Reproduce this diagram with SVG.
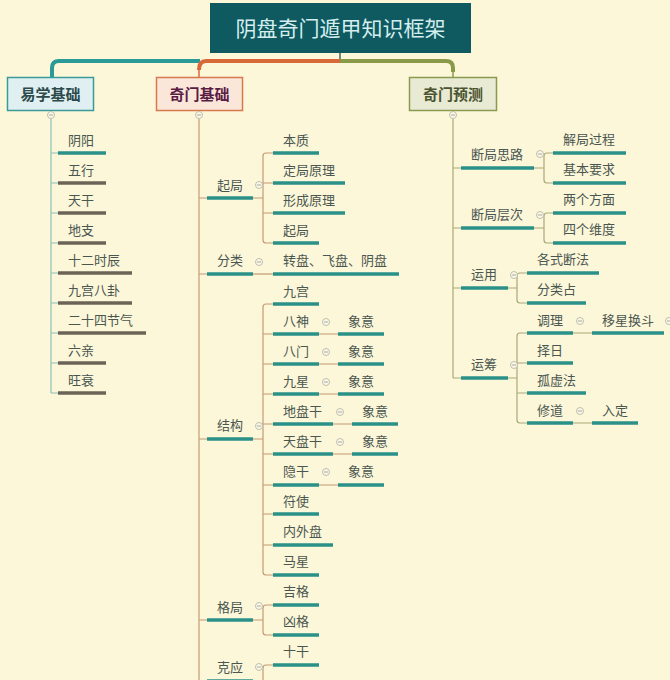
<svg xmlns="http://www.w3.org/2000/svg" width="670" height="680" viewBox="0 0 670 680">
<style>
.t{font-family:"Noto Sans CJK SC","Noto Sans",sans-serif;font-size:13px;fill:#4a5650}
.bt{font-family:"Noto Sans CJK SC","Noto Sans",sans-serif;font-size:15px;font-weight:bold}
.ut{stroke:#2a9088;stroke-width:3.5;fill:none}
.ug{stroke:#6b6456;stroke-width:3.5;fill:none}
.cl{stroke:#8cc0b8;stroke-width:1.2;fill:none}
.cm{stroke:#c49a72;stroke-width:1.2;fill:none}
.cr{stroke:#aaa878;stroke-width:1.2;fill:none}
.ci{fill:#fbf8e6;stroke:#b8b8a8;stroke-width:0.9}
.cim{stroke:#a0a098;stroke-width:0.9}
</style>
<defs>
<g id="col"><circle class="ci" r="3.5"/><line class="cim" x1="-2" y1="0" x2="2" y2="0"/></g>
</defs>
<rect width="670" height="680" fill="#fcf7d9"/>

<g id="connectors">
<path d="M340,53 V61" stroke="#3a6a60" stroke-width="1.5"/>
<path d="M52,77 V68 Q52,61 59,61 H200" stroke="#2a9a98" stroke-width="4" fill="none"/>
<path d="M52,66 V77" stroke="#2a9a98" stroke-width="1.5"/>
<path d="M199,70 Q199,61 206,61 H341" stroke="#d8693a" stroke-width="4" fill="none"/>
<path d="M199,66 V77" stroke="#d8693a" stroke-width="1.5"/>
<path d="M340,61 H446 Q453,61 453,68 V72" stroke="#8a9a48" stroke-width="4" fill="none"/>
<path d="M453,66 V77" stroke="#8a9a48" stroke-width="1.5"/>
<!-- left column -->
<path class="cl" d="M51,119 V393 M51,153 H58 M51,183 H58 M51,213 H58 M51,243 H58 M51,273 H58 M51,303 H58 M51,333 H58 M51,363 H58 M51,393 H58"/>
<!-- middle column -->
<path class="cm" d="M199,119 V680 M199,198 H207 M199,274 H207 M199,439 H207 M199,620 H207 M199,681 H207"/>
<path class="cm" d="M253,198 H263 M266,153 Q263,153 263,156 V240 Q263,243 266,243 H273 M266,153 H273 M263,183 H273 M263,213 H273"/>
<path class="cm" d="M253,274 H273"/>
<path class="cm" d="M253,439 H263 M266,304 Q263,304 263,307 V572 Q263,575 266,575 H273 M266,304 H273 M263,334 H273 M263,364 H273 M263,394 H273 M263,424 H273 M263,454 H273 M263,485 H273 M263,514 H273 M263,545 H273"/>
<path class="cm" d="M319,334 H338 M319,364 H338 M319,394 H338 M333,424 H352 M333,454 H352 M319,485 H338"/>
<path class="cm" d="M253,620 H263 M266,605 Q263,605 263,608 V632 Q263,635 266,635 H273 M266,605 H273"/>
<path class="cm" d="M266,665 Q263,665 263,668 V680 M266,665 H273"/>
<!-- right column -->
<path class="cr" d="M453,119 V378 M453,168 H461 M453,228 H461 M453,288 H461 M453,378 H461"/>
<path class="cr" d="M534,168 H544 M547,153 Q544,153 544,156 V180 Q544,183 547,183 H553 M547,153 H553"/>
<path class="cr" d="M534,228 H544 M547,213 Q544,213 544,216 V240 Q544,243 547,243 H553 M547,213 H553"/>
<path class="cr" d="M508,288 H517 M520,273 Q517,273 517,276 V300 Q517,303 520,303 H527 M520,273 H527"/>
<path class="cr" d="M508,378 H517 M520,333 Q517,333 517,336 V420 Q517,423 520,423 H527 M520,333 H527 M517,363 H527 M517,393 H527"/>
<path class="cr" d="M573,333 H592 M573,423 H592"/>
</g>

<g id="root">
<rect x="210" y="3" width="261" height="50" fill="#0e5a60"/>
<text x="340.5" y="36" text-anchor="middle" style="font-family:'Noto Sans CJK SC','Noto Sans',sans-serif;font-size:21px;fill:#d4eeee">阴盘奇门遁甲知识框架</text>
</g>

<g id="n-yixue">
<rect x="7.5" y="77.5" width="86" height="33" fill="#e0f0f2" stroke="#3a9a98" stroke-width="1.5"/>
<text class="bt" x="50.5" y="99.5" text-anchor="middle" fill="#2c4a4c">易学基础</text>
<use href="#col" x="51" y="115"/>
</g>
<g id="n-qimen">
<rect x="156.5" y="77.5" width="86" height="33" fill="#fbe6da" stroke="#d8784e" stroke-width="1.5"/>
<text class="bt" x="199.5" y="99.5" text-anchor="middle" fill="#5a1c44">奇门基础</text>
<use href="#col" x="199" y="115"/>
</g>
<g id="n-yuce">
<rect x="409.5" y="77.5" width="87" height="33" fill="#e8ead4" stroke="#8a9a50" stroke-width="1.5"/>
<text class="bt" x="453" y="99.5" text-anchor="middle" fill="#4a5530">奇门预测</text>
<use href="#col" x="453" y="115"/>
</g>

<!-- left children -->
<g id="l1"><line class="ut" x1="58" y1="153" x2="106" y2="153"/><text class="t" x="68" y="145">阴阳</text></g>
<g id="l2"><line class="ug" x1="58" y1="183" x2="106" y2="183"/><text class="t" x="68" y="175">五行</text></g>
<g id="l3"><line class="ug" x1="58" y1="213" x2="106" y2="213"/><text class="t" x="68" y="205">天干</text></g>
<g id="l4"><line class="ug" x1="58" y1="243" x2="106" y2="243"/><text class="t" x="68" y="235">地支</text></g>
<g id="l5"><line class="ug" x1="58" y1="273" x2="132" y2="273"/><text class="t" x="68" y="265">十二时辰</text></g>
<g id="l6"><line class="ug" x1="58" y1="303" x2="132" y2="303"/><text class="t" x="68" y="295">九宫八卦</text></g>
<g id="l7"><line class="ug" x1="58" y1="333" x2="146" y2="333"/><text class="t" x="68" y="325">二十四节气</text></g>
<g id="l8"><line class="ug" x1="58" y1="363" x2="106" y2="363"/><text class="t" x="68" y="355">六亲</text></g>
<g id="l9"><line class="ug" x1="58" y1="393" x2="106" y2="393"/><text class="t" x="68" y="385">旺衰</text></g>

<!-- middle -->
<g id="m-qiju"><line class="ut" x1="207" y1="198" x2="253" y2="198"/><text class="t" x="217" y="190">起局</text><use href="#col" x="259" y="185"/></g>
<g id="m1"><line class="ut" x1="273" y1="153" x2="319" y2="153"/><text class="t" x="283" y="145">本质</text></g>
<g id="m2"><line class="ut" x1="273" y1="183" x2="345" y2="183"/><text class="t" x="283" y="175">定局原理</text></g>
<g id="m3"><line class="ut" x1="273" y1="213" x2="345" y2="213"/><text class="t" x="283" y="205">形成原理</text></g>
<g id="m4"><line class="ut" x1="273" y1="243" x2="319" y2="243"/><text class="t" x="283" y="235">起局</text></g>
<g id="m-fenlei"><line class="ut" x1="207" y1="274" x2="253" y2="274"/><text class="t" x="217" y="265">分类</text><use href="#col" x="259" y="262"/></g>
<g id="m5"><line class="ut" x1="273" y1="274" x2="399" y2="274"/><text class="t" x="283" y="265">转盘、飞盘、阴盘</text></g>
<g id="m-jiegou"><line class="ut" x1="207" y1="439" x2="253" y2="439"/><text class="t" x="217" y="430">结构</text><use href="#col" x="259" y="426"/></g>
<g id="s1"><line class="ut" x1="273" y1="304" x2="319" y2="304"/><text class="t" x="283" y="296">九宫</text></g>
<g id="s2"><line class="ut" x1="273" y1="334" x2="319" y2="334"/><text class="t" x="283" y="326">八神</text><use href="#col" x="326" y="322"/></g>
<g id="s2a"><line class="ut" x1="338" y1="334" x2="384" y2="334"/><text class="t" x="348" y="326">象意</text></g>
<g id="s3"><line class="ut" x1="273" y1="364" x2="319" y2="364"/><text class="t" x="283" y="356">八门</text><use href="#col" x="326" y="352"/></g>
<g id="s3a"><line class="ut" x1="338" y1="364" x2="384" y2="364"/><text class="t" x="348" y="356">象意</text></g>
<g id="s4"><line class="ut" x1="273" y1="394" x2="319" y2="394"/><text class="t" x="283" y="386">九星</text><use href="#col" x="326" y="382"/></g>
<g id="s4a"><line class="ut" x1="338" y1="394" x2="384" y2="394"/><text class="t" x="348" y="386">象意</text></g>
<g id="s5"><line class="ut" x1="273" y1="424" x2="333" y2="424"/><text class="t" x="283" y="416">地盘干</text><use href="#col" x="340" y="412"/></g>
<g id="s5a"><line class="ut" x1="352" y1="424" x2="398" y2="424"/><text class="t" x="362" y="416">象意</text></g>
<g id="s6"><line class="ut" x1="273" y1="454" x2="333" y2="454"/><text class="t" x="283" y="446">天盘干</text><use href="#col" x="340" y="442"/></g>
<g id="s6a"><line class="ut" x1="352" y1="454" x2="398" y2="454"/><text class="t" x="362" y="446">象意</text></g>
<g id="s7"><line class="ut" x1="273" y1="485" x2="319" y2="485"/><text class="t" x="283" y="476">隐干</text><use href="#col" x="326" y="472"/></g>
<g id="s7a"><line class="ut" x1="338" y1="485" x2="384" y2="485"/><text class="t" x="348" y="476">象意</text></g>
<g id="s8"><line class="ut" x1="273" y1="514" x2="319" y2="514"/><text class="t" x="283" y="506">符使</text></g>
<g id="s9"><line class="ut" x1="273" y1="545" x2="333" y2="545"/><text class="t" x="283" y="536">内外盘</text></g>
<g id="s10"><line class="ut" x1="273" y1="575" x2="319" y2="575"/><text class="t" x="283" y="566">马星</text></g>
<g id="m-geju"><line class="ut" x1="207" y1="620" x2="253" y2="620"/><text class="t" x="217" y="612">格局</text><use href="#col" x="259" y="606"/></g>
<g id="g1"><line class="ut" x1="273" y1="605" x2="319" y2="605"/><text class="t" x="283" y="596">吉格</text></g>
<g id="g2"><line class="ut" x1="273" y1="635" x2="319" y2="635"/><text class="t" x="283" y="626">凶格</text></g>
<g id="m-keying"><line class="ut" x1="207" y1="681" x2="253" y2="681"/><text class="t" x="217" y="672">克应</text><use href="#col" x="259" y="667"/></g>
<g id="k1"><line class="ut" x1="273" y1="665" x2="319" y2="665"/><text class="t" x="283" y="656">十干</text></g>

<!-- right -->
<g id="r1"><line class="ut" x1="461" y1="168" x2="534" y2="168"/><text class="t" x="471" y="159">断局思路</text><use href="#col" x="540" y="154"/></g>
<g id="r1a"><line class="ut" x1="553" y1="153" x2="626" y2="153"/><text class="t" x="563" y="144">解局过程</text></g>
<g id="r1b"><line class="ut" x1="553" y1="183" x2="626" y2="183"/><text class="t" x="563" y="174">基本要求</text></g>
<g id="r2"><line class="ut" x1="461" y1="228" x2="534" y2="228"/><text class="t" x="471" y="219">断局层次</text><use href="#col" x="540" y="215"/></g>
<g id="r2a"><line class="ut" x1="553" y1="213" x2="626" y2="213"/><text class="t" x="563" y="204">两个方面</text></g>
<g id="r2b"><line class="ut" x1="553" y1="243" x2="626" y2="243"/><text class="t" x="563" y="234">四个维度</text></g>
<g id="r3"><line class="ut" x1="461" y1="288" x2="508" y2="288"/><text class="t" x="471" y="279">运用</text><use href="#col" x="514" y="275"/></g>
<g id="r3a"><line class="ut" x1="527" y1="273" x2="599" y2="273"/><text class="t" x="537" y="264">各式断法</text></g>
<g id="r3b"><line class="ut" x1="527" y1="303" x2="586" y2="303"/><text class="t" x="537" y="294">分类占</text></g>
<g id="r4"><line class="ut" x1="461" y1="378" x2="508" y2="378"/><text class="t" x="471" y="369">运筹</text><use href="#col" x="514" y="365"/></g>
<g id="r4a"><line class="ut" x1="527" y1="333" x2="573" y2="333"/><text class="t" x="537" y="325">调理</text><use href="#col" x="580" y="321"/></g>
<g id="r4a1"><line class="ut" x1="592" y1="333" x2="664" y2="333"/><text class="t" x="602" y="325">移星换斗</text><use href="#col" x="669" y="321"/></g>
<g id="r4b"><line class="ut" x1="527" y1="363" x2="573" y2="363"/><text class="t" x="537" y="355">择日</text></g>
<g id="r4c"><line class="ut" x1="527" y1="393" x2="586" y2="393"/><text class="t" x="537" y="385">孤虚法</text></g>
<g id="r4d"><line class="ut" x1="527" y1="423" x2="573" y2="423"/><text class="t" x="537" y="415">修道</text><use href="#col" x="580" y="411"/></g>
<g id="r4d1"><line class="ut" x1="592" y1="423" x2="638" y2="423"/><text class="t" x="602" y="415">入定</text></g>
</svg>
